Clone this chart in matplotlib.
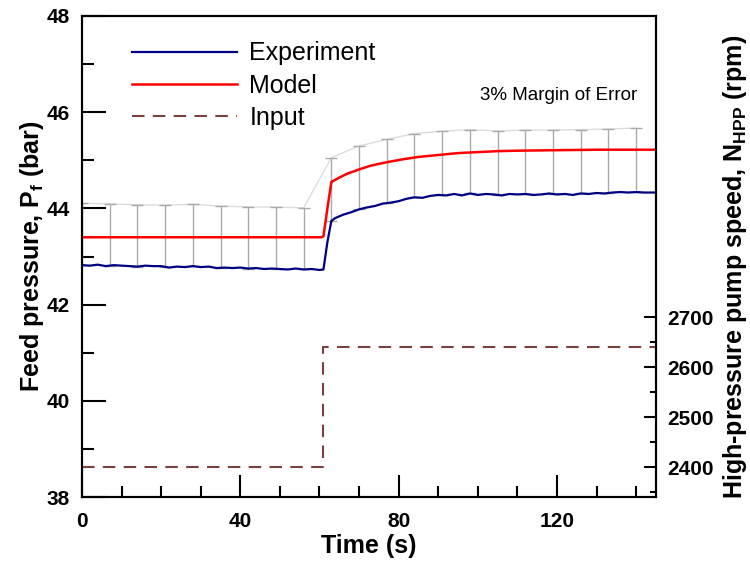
import matplotlib
matplotlib.use("Agg")
import matplotlib.pyplot as plt
import numpy as np

plt.rcParams['font.family'] = ['Liberation Sans', 'DejaVu Sans']
plt.rcParams['mathtext.fontset'] = 'custom'
plt.rcParams['mathtext.rm'] = 'Liberation Sans:bold'

# experiment (feed pressure, bar)
t_exp = [0, 2, 4, 6, 8, 10, 12, 14, 16, 18, 20, 22, 24, 26, 28, 30, 32, 34, 36, 38,
         40, 42, 44, 46, 48, 50, 52, 54, 56, 58, 60, 61, 62, 63, 64, 66, 68, 70, 72,
         74, 76, 78, 80, 82, 84, 86, 88, 90, 92, 94, 96, 98, 100, 102, 104, 106, 108,
         110, 112, 114, 116, 118, 120, 122, 124, 126, 128, 130, 132, 134, 136, 138,
         140, 142, 144, 145]
p_exp = [42.82, 42.81, 42.83, 42.80, 42.82, 42.81, 42.80, 42.79, 42.81, 42.80,
         42.80, 42.77, 42.79, 42.78, 42.80, 42.78, 42.79, 42.76, 42.77, 42.76,
         42.77, 42.75, 42.76, 42.74, 42.75, 42.74, 42.73, 42.75, 42.73, 42.74,
         42.72, 42.73, 43.30, 43.74, 43.80, 43.87, 43.92, 43.98, 44.02, 44.05,
         44.10, 44.12, 44.15, 44.20, 44.23, 44.22, 44.26, 44.28, 44.27, 44.30,
         44.27, 44.31, 44.28, 44.30, 44.29, 44.27, 44.30, 44.29, 44.30, 44.28,
         44.29, 44.31, 44.29, 44.30, 44.28, 44.31, 44.30, 44.32, 44.31, 44.33,
         44.34, 44.33, 44.34, 44.33, 44.33, 44.33]

# model
t_mod = [0, 60.5, 61, 62, 63, 65, 67, 70, 73, 77, 81, 85, 90, 95, 100, 105, 110, 120, 130, 145]
p_mod = [43.40, 43.40, 43.42, 44.00, 44.55, 44.64, 44.72, 44.81, 44.89, 44.96, 45.02,
         45.07, 45.11, 45.15, 45.17, 45.19, 45.20, 45.21, 45.22, 45.22]

# input (pump speed, rpm)
t_in = [0, 61, 61, 145]
n_in = [2400, 2400, 2640, 2640]

# 3% margin of error on the experiment
t_err = np.arange(0, 141, 7)
margin = 0.03

fig = plt.figure(figsize=(7.5, 5.63), dpi=100)
ax = fig.add_axes([0.1093, 0.1172, 0.7653, 0.8544])

base = np.interp(t_err, t_exp, p_exp)
top = base * (1 + margin)
ax.plot(t_err, top, color='#dcdcdc', lw=1, zorder=1)
ax.errorbar(t_err, base, yerr=[np.zeros_like(base), top - base], fmt='none',
            ecolor='#aaaaaa', elinewidth=1, capsize=4, capthick=1, zorder=2)

l1, = ax.plot(t_exp, p_exp, color='#000080', lw=1.6, zorder=4, label='Experiment')
l2, = ax.plot(t_mod, p_mod, color='#ff0000', lw=1.8, zorder=5, label='Model')

ax2 = ax.twinx()
l3, = ax2.plot(t_in, n_in, color='#7a3f3f', lw=1.5, ls=(0, (6, 4)), label='Input')

ax.set_xlim(0, 145)
ax.set_ylim(38, 48)
ax2.set_ylim(2340, 3302)

ax.set_xticks([0, 40, 80, 120])
ax.set_xticks(np.arange(0, 145, 10), minor=True)
ax.set_yticks(np.arange(38, 49, 2))
ax.set_yticks(np.arange(38, 49, 1), minor=True)
ax2.set_yticks([2400, 2500, 2600, 2700])
ax2.set_yticks([2350, 2450, 2550, 2650], minor=True)

ax.tick_params(which='both', direction='in', width=1.5, labelsize=15, top=False, right=False)
ax.tick_params(which='major', length=17, pad=9)
ax.tick_params(which='minor', length=8.5)
ax.tick_params(axis='x', which='major', length=16, pad=11)
ax.tick_params(axis='x', which='minor', length=8)
ax2.tick_params(which='both', direction='in', width=1.5, labelsize=15)
ax2.tick_params(which='major', length=8.5, pad=8)
ax2.tick_params(which='minor', length=4.5)
for a in (ax, ax2):
    for lab in a.get_xticklabels() + a.get_yticklabels():
        lab.set_fontweight('bold')
    for s in a.spines.values():
        s.set_linewidth(1.5)

ax.set_xlabel('Time (s)', fontsize=18, fontweight='bold', labelpad=2)
ax.set_ylabel('Feed pressure, P$_\\mathregular{f}$ (bar)', fontsize=18, fontweight='bold', labelpad=0)
ax2.set_ylabel('High-pressure pump speed, N$_\\mathregular{HPP}$ (rpm)', fontsize=18,
               fontweight='bold')
ax2.yaxis.set_label_coords(1.113, 0.478)

ax.text(0.967, 0.835, '3% Margin of Error', transform=ax.transAxes, fontsize=13.5,
        ha='right', va='center')

ax.legend([l1, l2, l3], ['Experiment', 'Model', 'Input'], loc='upper left',
          bbox_to_anchor=(0.087, 0.947), frameon=False, fontsize=18, handlelength=4.2,
          handletextpad=0.5, labelspacing=0.33, borderpad=0, borderaxespad=0)

fig.savefig('out.png', dpi=100)
